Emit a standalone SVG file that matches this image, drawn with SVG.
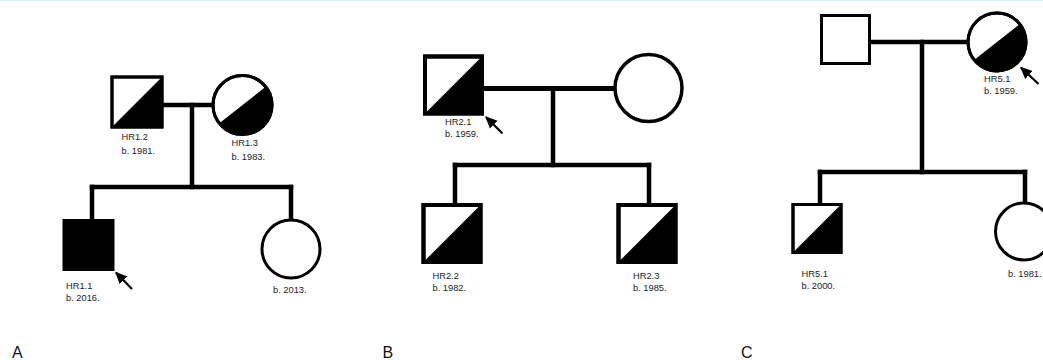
<svg xmlns="http://www.w3.org/2000/svg" width="1043" height="360" viewBox="0 0 1043 360">
<defs>
<style>
.bg{fill:#ffffff}
.sym{fill:#ffffff;stroke:#000;stroke-width:3}
.thick{stroke-width:4}
.half{fill:#000}
.line{stroke:#000;stroke-width:4.5;fill:none;stroke-linecap:square}
.arr{stroke:#000;stroke-width:2.2;fill:none}
.lbl{font-family:"Liberation Sans",Arial,sans-serif;font-size:9.3px;fill:#222}
.panel{font-family:"Liberation Sans",Arial,sans-serif;font-size:16px;fill:#111}
</style>
<marker id="ah" viewBox="0 0 10 10" refX="9" refY="5" markerWidth="5.5" markerHeight="5.5" orient="auto" markerUnits="strokeWidth">
<path d="M0,0.5 L10,5 L0,9.5 Z" fill="#000"/>
</marker>
</defs>
<rect class="bg" x="0" y="0" width="1043" height="360"/>
<line x1="0" y1="0.5" x2="1043" y2="0.5" stroke="#e1eef6" stroke-width="1.5"/>

<g id="connectors">
<!-- Panel A -->
<line class="line" x1="162" y1="105" x2="213" y2="105"/>
<line class="line" x1="192" y1="105" x2="192" y2="187"/>
<line class="line" x1="92" y1="187" x2="291" y2="187"/>
<line class="line" x1="92" y1="187" x2="92" y2="220"/>
<line class="line" x1="291" y1="187" x2="291" y2="220"/>
<line class="arr" x1="132" y1="289" x2="116" y2="272.5" marker-end="url(#ah)"/>
<!-- Panel B -->
<line class="line" x1="483" y1="88.5" x2="614" y2="88.5" style="stroke-width:5"/>
<line class="line" x1="553" y1="88.5" x2="553" y2="165"/>
<line class="line" x1="455" y1="165" x2="649" y2="165"/>
<line class="line" x1="455" y1="165" x2="455" y2="205"/>
<line class="line" x1="649" y1="165" x2="649" y2="205"/>
<line class="arr" x1="502.5" y1="133.5" x2="486" y2="117" marker-end="url(#ah)"/>
<!-- Panel C -->
<line class="line" x1="869" y1="42" x2="968" y2="42"/>
<line class="line" x1="922" y1="42" x2="922" y2="172"/>
<line class="line" x1="820" y1="172" x2="1025" y2="172"/>
<line class="line" x1="820" y1="172" x2="820" y2="204"/>
<line class="line" x1="1025" y1="172" x2="1025" y2="203"/>
<line class="arr" x1="1038.5" y1="84" x2="1021" y2="67.5" marker-end="url(#ah)"/>
</g>

<!-- Panel A nodes -->
<g id="HR1.2">
<rect class="sym" x="112" y="77" width="50" height="50"/>
<polygon class="half" points="112,127 162,77 162,127"/>
<rect class="sym" x="112" y="77" width="50" height="50" style="fill:none"/>
<text class="lbl" x="121.5" y="139.5">HR1.2</text>
<text class="lbl" x="121.5" y="153.5">b. 1981.</text>
</g>
<g id="HR1.3">
<circle class="sym" cx="242.5" cy="105" r="29.5"/>
<path class="half" d="M265.7,86.8 A29.5,29.5 0 0 1 219.3,123.2 Z"/>
<circle class="sym" cx="242.5" cy="105" r="29.5" style="fill:none"/>
<text class="lbl" x="231.5" y="146">HR1.3</text>
<text class="lbl" x="231.5" y="160">b. 1983.</text>
</g>
<g id="HR1.1">
<rect x="63.5" y="220" width="50" height="50" fill="#000" stroke="#000" stroke-width="2"/>
<text class="lbl" x="66" y="288.5">HR1.1</text>
<text class="lbl" x="66" y="300.5">b. 2016.</text>
</g>
<g id="A-sister">
<circle class="sym" cx="291" cy="249" r="29"/>
<text class="lbl" x="273" y="293">b. 2013.</text>
</g>

<!-- Panel B nodes -->
<g id="HR2.1">
<rect class="sym thick" x="425" y="56.5" width="57" height="57"/>
<polygon class="half" points="425,113.5 482,56.5 482,113.5"/>
<rect class="sym thick" x="425" y="56.5" width="57" height="57" style="fill:none"/>
<text class="lbl" x="445" y="125">HR2.1</text>
<text class="lbl" x="445" y="137">b. 1959.</text>
</g>
<g id="B-wife">
<circle class="sym" cx="648.5" cy="88" r="33.5" style="stroke-width:3.5"/>
</g>
<g id="HR2.2">
<rect class="sym thick" x="423.5" y="205" width="57" height="57"/>
<polygon class="half" points="423.5,262 480.5,205 480.5,262"/>
<rect class="sym thick" x="423.5" y="205" width="57" height="57" style="fill:none"/>
<text class="lbl" x="432.5" y="278.5">HR2.2</text>
<text class="lbl" x="432.5" y="290.5">b. 1982.</text>
</g>
<g id="HR2.3">
<rect class="sym thick" x="618.5" y="205" width="57" height="57"/>
<polygon class="half" points="618.5,262 675.5,205 675.5,262"/>
<rect class="sym thick" x="618.5" y="205" width="57" height="57" style="fill:none"/>
<text class="lbl" x="633" y="278.5">HR2.3</text>
<text class="lbl" x="633" y="290.5">b. 1985.</text>
</g>

<!-- Panel C nodes -->
<g id="C-husband">
<rect class="sym" x="821.5" y="15.5" width="48" height="48"/>
</g>
<g id="HR5.1-mother">
<circle class="sym" cx="997" cy="42" r="29"/>
<path class="half" d="M1019.9,24.1 A29,29 0 0 1 974.1,59.9 Z"/>
<circle class="sym" cx="997" cy="42" r="29" style="fill:none"/>
<text class="lbl" x="984" y="81.5">HR5.1</text>
<text class="lbl" x="984" y="94">b. 1959.</text>
</g>
<g id="HR5.1-son">
<rect class="sym" x="793" y="204.5" width="48" height="48"/>
<polygon class="half" points="793,252.5 841,204.5 841,252.5"/>
<rect class="sym" x="793" y="204.5" width="48" height="48" style="fill:none"/>
<text class="lbl" x="801.5" y="276.5">HR5.1</text>
<text class="lbl" x="801.5" y="288.5">b. 2000.</text>
</g>
<g id="C-daughter">
<circle class="sym" cx="1024" cy="231.5" r="28.5"/>
<text class="lbl" x="1008" y="276.5">b. 1981.</text>
</g>

<g id="panel-labels">
<text class="panel" x="12" y="357.5">A</text>
<text class="panel" x="382.5" y="357.5">B</text>
<text class="panel" x="741" y="357.5">C</text>
</g>
</svg>
